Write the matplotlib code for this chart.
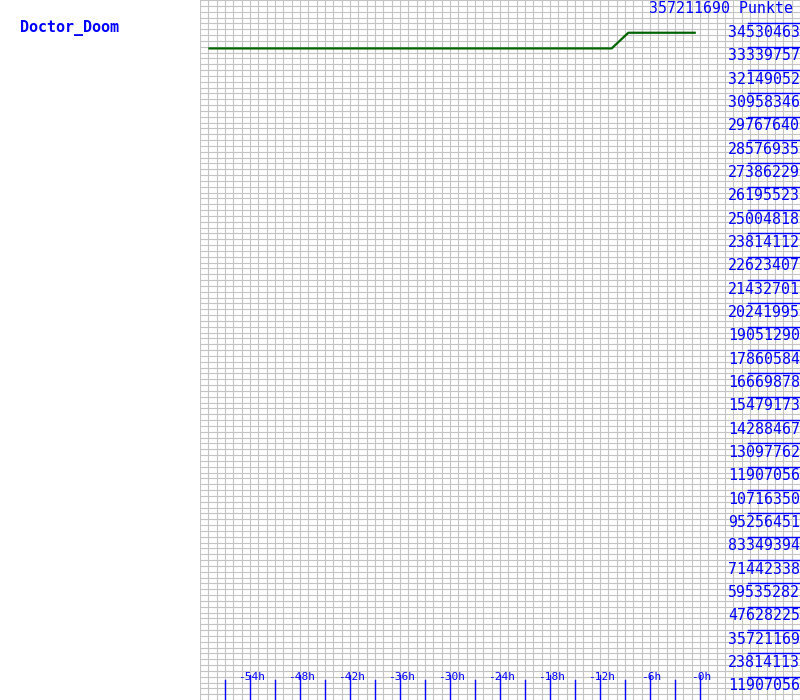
import matplotlib
matplotlib.use("Agg")
import matplotlib.pyplot as plt
import numpy as np

# player + score data
player = "Doctor_Doom"
max_points = 357211690
unit = "Punkte"

# hours before now and points at those times
hours = [-59.0, -10.6, -8.6, -0.5]
points = [332500000, 332500000, 340500000, 340500000]

# time axis
hour_min, hour_max = -60, 12
tick_hours = [-57, -54, -51, -48, -45, -42, -39, -36, -33, -30, -27, -24, -21, -18, -15, -12, -9, -6, -3, 0]
label_hours = [-54, -48, -42, -36, -30, -24, -18, -12, -6, 0]

n_bands = 30
step = max_points / n_bands
band_values = [step * k for k in range(1, n_bands)]

BLUE = "#0000ff"
GRID = "#c4c4c4"
FONT = "DejaVu Sans Mono"

fig = plt.figure(figsize=(8, 7), dpi=100)
ax = fig.add_axes([200 / 800, 0, 600 / 800, 1])
ax.set_xlim(hour_min, hour_max)
ax.set_ylim(0, max_points)

# light grid: one column per hour, 4 rows per band
ax.set_xticks(np.arange(hour_min, hour_max + 1, 1))
ax.set_yticks(np.linspace(0, max_points, n_bands * 4 + 1))
ax.grid(True, color=GRID, linewidth=0.8)
ax.tick_params(length=0, labelleft=False, labelbottom=False)
for s in ax.spines.values():
    s.set_visible(False)
ax.set_axisbelow(True)

# score line
ax.plot(hours, points, color="#006400", linewidth=1.6, solid_capstyle="butt", zorder=3)

# time ticks at the bottom
trans = ax.get_xaxis_transform()
for h in tick_hours:
    top = 25 / 700 if h in label_hours else 20 / 700
    ax.plot([h, h], [0, top], color=BLUE, linewidth=1.0, transform=trans, zorder=4)
for h in label_hours:
    ax.text(h + 0.15, 23 / 700, "-%dh" % abs(h), transform=trans, color=BLUE,
            fontsize=8, family=FONT, ha="center", va="center", zorder=5)

# value labels on the right; the original image only has room for 8 digits
for v in band_values:
    ax.plot([5.76, hour_max], [v, v], color=BLUE, linewidth=1.0, zorder=4)
    ax.text(3.35, v - step * 0.07, str(int(round(v)))[:8], color=BLUE, fontsize=10.7,
            family=FONT, ha="left", va="top", zorder=5)

ax.text(-6.1, max_points - step * 0.03, "%d %s" % (max_points, unit), color=BLUE,
        fontsize=10.7, family=FONT, ha="left", va="top", zorder=5)

fig.text(20 / 800, 1 - 28 / 700, player, color=BLUE, fontsize=10.8, family=FONT,
         fontweight="bold", ha="left", va="center")

fig.savefig("out.png", dpi=100, facecolor="white")
